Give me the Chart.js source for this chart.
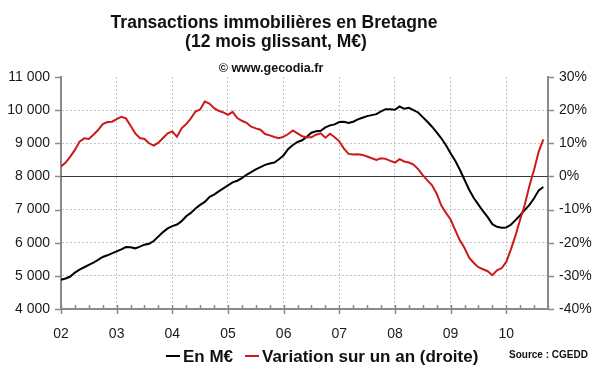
<!DOCTYPE html>
<html>
<head>
<meta charset="utf-8">
<script src="https://cdn.jsdelivr.net/npm/chart.js@4.4.0/dist/chart.umd.min.js"></script>
<style>
  html, body { margin: 0; padding: 0; background: #fff; }
</style>
</head>
<body>
<canvas id="myChart" width="600" height="372"></canvas>
<script>
// années (axe x), une valeur par mois de janv. 2002 à sept. 2010
const yearLabels = ["02", "03", "04", "05", "06", "07", "08", "09", "10"];
const leftTicks = ["4 000", "5 000", "6 000", "7 000", "8 000", "9 000", "10 000", "11 000"];
const rightTicks = ["-40%", "-30%", "-20%", "-10%", "0%", "10%", "20%", "30%"];

// transactions, M€ (12 mois glissant)
const montants = [
  4880, 4920, 4980, 5100, 5190, 5260, 5330, 5400, 5480, 5570, 5620, 5680,
  5740, 5800, 5870, 5860, 5830, 5880, 5940, 5970, 6050, 6190, 6320, 6430,
  6500, 6550, 6650, 6800, 6900, 7030, 7140, 7230, 7380, 7450, 7550, 7640,
  7730, 7820, 7870, 7950, 8050, 8130, 8210, 8280, 8350, 8390, 8420, 8520,
  8640, 8830, 8950, 9040, 9090, 9200, 9320, 9360, 9380, 9480, 9540, 9570,
  9640, 9650, 9610, 9650, 9720, 9770, 9820, 9850, 9880, 9960, 10030, 10030,
  10010, 10110, 10040, 10070, 10000, 9930, 9790, 9650, 9500, 9330, 9150, 8940,
  8700, 8470, 8200, 7900, 7600, 7350, 7150, 6950, 6770, 6560, 6480, 6450,
  6460, 6540, 6680, 6830, 6990, 7140, 7340, 7580, 7680
];

// variation sur un an, %
const variation = [
  3.0, 4.2, 6.0, 8.0, 10.5, 11.5, 11.3, 12.6, 14.0, 15.8, 16.4, 16.5,
  17.3, 18.0, 17.5, 15.3, 13.0, 11.6, 11.3, 10.0, 9.3, 10.2, 11.6, 13.0,
  13.6, 12.0, 14.5, 15.8, 17.5, 19.6, 20.2, 22.6, 22.0, 20.6, 19.8, 19.3,
  18.6, 19.5, 17.6, 16.8, 16.2, 15.0, 14.5, 14.1, 12.8, 12.4, 11.9, 11.5,
  12.0, 12.8, 13.9, 13.0, 12.1, 11.8, 11.8, 12.6, 13.0, 11.7, 12.9, 11.8,
  10.6, 8.4, 6.8, 6.6, 6.7, 6.5, 6.0, 5.5, 5.0, 5.5, 5.3, 4.7,
  4.2, 5.2, 4.5, 4.2, 3.6, 2.2, 0.4, -1.2, -2.7, -5.2, -8.8, -11.0,
  -13.0, -16.2, -19.3, -21.6, -24.5, -26.1, -27.4, -28.0, -28.6, -29.8, -28.3, -27.7,
  -25.8, -22.0, -17.8, -13.0, -8.5, -2.8, 2.0, 7.5, 11.2
];

const FONT = "'Liberation Sans', Arial, sans-serif";
const gridGray = "#c4c4c4";
const axisGray = "#8a8a8a";

// titres, légende, source, repères d'axes et ligne du zéro
const decor = {
  id: "decor",
  beforeDatasetsDraw(chart) {
    const { ctx, chartArea, scales } = chart;
    const y0 = Math.round(scales.y.getPixelForValue(8000)) + 0.5;
    ctx.save();
    ctx.strokeStyle = "#3a3a3a";
    ctx.lineWidth = 1;
    ctx.beginPath();
    ctx.moveTo(chartArea.left, y0);
    ctx.lineTo(chartArea.right, y0);
    ctx.stroke();

    ctx.strokeStyle = axisGray;
    ctx.lineWidth = 1.5;
    ctx.beginPath();
    scales.y.ticks.forEach((t) => {
      const p = Math.round(scales.y.getPixelForValue(t.value)) + 0.5;
      ctx.moveTo(chartArea.left - 6, p);
      ctx.lineTo(chartArea.left, p);
    });
    scales.y1.ticks.forEach((t) => {
      const p = Math.round(scales.y1.getPixelForValue(t.value)) + 0.5;
      ctx.moveTo(chartArea.right, p);
      ctx.lineTo(chartArea.right + 6, p);
    });
    scales.x.ticks.forEach((t) => {
      const p = Math.round(scales.x.getPixelForValue(t.value)) + 0.5;
      const major = t.value % 12 === 0;
      ctx.moveTo(p, chartArea.bottom - 4);
      ctx.lineTo(p, chartArea.bottom + (major ? 5 : 0));
    });
    ctx.stroke();
    ctx.restore();
  },
  afterDraw(chart) {
    const ctx = chart.ctx;
    ctx.save();
    ctx.fillStyle = "#111";
    ctx.textAlign = "center";
    ctx.textBaseline = "alphabetic";
    ctx.font = "bold 17.5px " + FONT;
    ctx.fillText("Transactions immobilières en Bretagne", 274, 28);
    ctx.fillText("(12 mois glissant, M€)", 276, 46.5);
    ctx.font = "bold 12.5px " + FONT;
    ctx.fillText("© www.gecodia.fr", 271, 72);

    // légende
    ctx.textAlign = "left";
    ctx.font = "bold 17px " + FONT;
    ctx.lineWidth = 2;
    ctx.strokeStyle = "#000";
    ctx.beginPath();
    ctx.moveTo(166, 356);
    ctx.lineTo(180, 356);
    ctx.stroke();
    ctx.fillText("En M€", 183, 362);
    ctx.strokeStyle = "#cc1a1a";
    ctx.beginPath();
    ctx.moveTo(245, 356);
    ctx.lineTo(259, 356);
    ctx.stroke();
    ctx.fillText("Variation sur un an (droite)", 262, 362);

    ctx.font = "bold 10px " + FONT;
    ctx.fillText("Source : CGEDD", 509, 358);
    ctx.restore();
  }
};

const ctx = document.getElementById("myChart").getContext("2d");

new Chart(ctx, {
  type: "line",
  data: {
    datasets: [
      {
        label: "En M€",
        data: montants.map((v, i) => ({ x: i, y: v })),
        yAxisID: "y",
        borderColor: "#000",
        borderWidth: 2,
        pointRadius: 0,
        tension: 0,
        order: 1,
      },
      {
        label: "Variation sur un an (droite)",
        data: variation.map((v, i) => ({ x: i, y: v })),
        yAxisID: "y1",
        borderColor: "#cc1a1a",
        borderWidth: 2,
        pointRadius: 0,
        tension: 0,
        order: 0,
      },
    ],
  },
  options: {
    responsive: false,
    animation: false,
    layout: { padding: { top: 77, left: 0, right: 0, bottom: 0 } },
    plugins: {
      legend: { display: false },
      title: { display: false },
      tooltip: { enabled: false },
    },
    scales: {
      x: {
        type: "linear",
        min: 0,
        max: 105,
        afterFit: (s) => { s.height = 63; },
        ticks: {
          stepSize: 3,
          autoSkip: false,
          maxRotation: 0,
          padding: 17,
          color: "#1a1a1a",
          font: { family: FONT, size: 14 },
          callback: (v) => (v % 12 === 0 ? yearLabels[v / 12] : ""),
        },
        grid: {
          drawTicks: false,
          color: (c) => (c.tick && c.tick.value % 12 === 0 && c.tick.value > 0 ? gridGray : "rgba(0,0,0,0)"),
        },
        border: { color: axisGray, width: 2, dash: [2, 2] },
      },
      y: {
        position: "left",
        min: 4000,
        max: 11000,
        afterFit: (s) => { s.width = 61; },
        ticks: {
          stepSize: 1000,
          padding: 11,
          color: "#1a1a1a",
          font: { family: FONT, size: 14 },
          callback: (v, i) => leftTicks[i],
        },
        grid: {
          drawTicks: false,
          color: (c) => (c.tick && [4000, 8000, 11000].indexOf(c.tick.value) < 0 ? gridGray : "rgba(0,0,0,0)"),
        },
        border: { color: axisGray, width: 2, dash: [2, 2] },
      },
      y1: {
        position: "right",
        min: -40,
        max: 30,
        afterFit: (s) => { s.width = 52; },
        ticks: {
          stepSize: 10,
          padding: 11,
          color: "#1a1a1a",
          font: { family: FONT, size: 14 },
          callback: (v, i) => rightTicks[i],
        },
        grid: { drawTicks: false, drawOnChartArea: false },
        border: { color: axisGray, width: 2 },
      },
    },
  },
  plugins: [decor],
});
</script>
</body>
</html>
